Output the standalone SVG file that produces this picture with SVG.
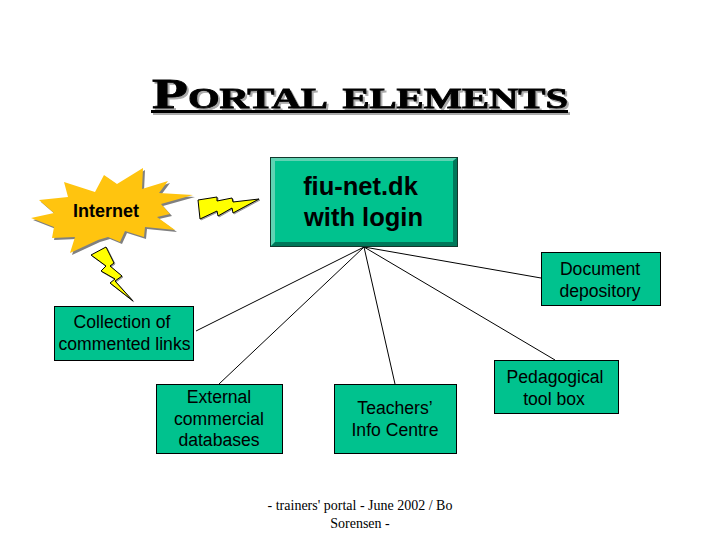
<svg xmlns="http://www.w3.org/2000/svg" width="720" height="540" viewBox="0 0 720 540">
<style>
.box{fill:#00c28e;stroke:#000;stroke-width:1}
.t{font-family:"Liberation Sans",Arial,sans-serif;font-size:17.6px;fill:#000;text-anchor:middle}
.c{stroke:#000;stroke-width:1;fill:none}
.bolt{fill:#ffff00;stroke:#000;stroke-width:1;stroke-linejoin:miter;filter:drop-shadow(1px 1px 0 #999)}
.shadow{fill:#808080}
.title{font-family:"Liberation Serif","DejaVu Serif",serif;font-weight:bold;font-size:42px;font-variant:small-caps}
</style>
<defs>
<path id="burst" d="M31 218L54 213L39 200L68 197L64 182L95 192L104 175L117 184L143 168L142 189L168 181L159 193L193 195L161 204L170 214L157 217L175 230L145 227L144 237L125 231L120 242L108 237L98 240L70 253L75 237L52 238L54 227Z"/>
</defs>
<rect width="720" height="540" fill="#fff"/>
<g id="title" style="filter:drop-shadow(2px 2px 0 #aaa)">
<text class="title" x="152" y="108" fill="#000" stroke="#000" stroke-width="0.8" textLength="416" lengthAdjust="spacingAndGlyphs">Portal elements</text>
<rect x="151" y="110" width="417" height="3" fill="#000"/>
</g>
<g id="connectors">
<path class="c" d="M364 247L196 331M364 247L219 384M364 247L395 384M364 247L555 360M364 247L541 278"/>
</g>
<g id="internet">
<use href="#burst" class="shadow" x="2" y="2"/>
<use href="#burst" fill="#ffc40f"/>
<text x="106" y="217" font-family="'Liberation Sans',sans-serif" font-size="17.500" font-weight="bold" text-anchor="middle" textLength="66" lengthAdjust="spacingAndGlyphs">Internet</text>
</g>
<g id="bolt1"><path class="bolt" d="M198 200L217 197L217 201L232 198L233 202L259 199L233 213L232 208L218 216L217 211L200 219Z"/></g>
<g id="bolt2"><path class="bolt" d="M91 255L106 247L114 263L110 266L122 276L115 281L133 301L110 283L115 279L101 271L106 266Z"/></g>
<g id="portal">
<rect x="270" y="157" width="188" height="90" fill="#00c28e"/>
<path fill="#5fd3b3" d="M270 157H458L453 161H275V242L270 247Z"/>
<path fill="#00785a" d="M458 157V247H270L275 242H453V161Z"/>
<rect x="270.500" y="157.500" width="187" height="89" fill="none" stroke="#12382c"/>
<text x="360.500" y="195" font-family="'Liberation Sans',sans-serif" font-weight="bold" font-size="25.500" text-anchor="middle">fiu-net.dk</text>
<text x="363.500" y="225.500" font-family="'Liberation Sans',sans-serif" font-weight="bold" font-size="25.500" text-anchor="middle">with login</text>
</g>
<g id="document"><rect class="box" x="541.500" y="252.500" width="119" height="53"/><text class="t" x="600" y="275">Document</text><text class="t" x="600" y="297">depository</text></g>
<g id="links"><rect class="box" x="54.500" y="306.500" width="139" height="54"/><text class="t" x="122" y="328">Collection of</text><text class="t" x="124.500" y="350">commented links</text></g>
<g id="external"><rect class="box" x="156.500" y="384.500" width="126" height="69"/><text class="t" x="219" y="403">External</text><text class="t" x="219" y="424.500">commercial</text><text class="t" x="219" y="446">databases</text></g>
<g id="teachers"><rect class="box" x="334.500" y="384.500" width="122" height="69"/><text class="t" x="395" y="414">Teachers’</text><text class="t" x="395" y="436">Info Centre</text></g>
<g id="toolbox"><rect class="box" x="494.500" y="360.500" width="124" height="53"/><text class="t" x="555" y="383">Pedagogical</text><text class="t" x="554" y="405">tool box</text></g>
<g id="footer" font-family="'Liberation Serif',serif" font-size="14" text-anchor="middle"><text x="360" y="510">- trainers' portal - June 2002 / Bo</text><text x="360" y="528">Sorensen -</text></g>
</svg>
